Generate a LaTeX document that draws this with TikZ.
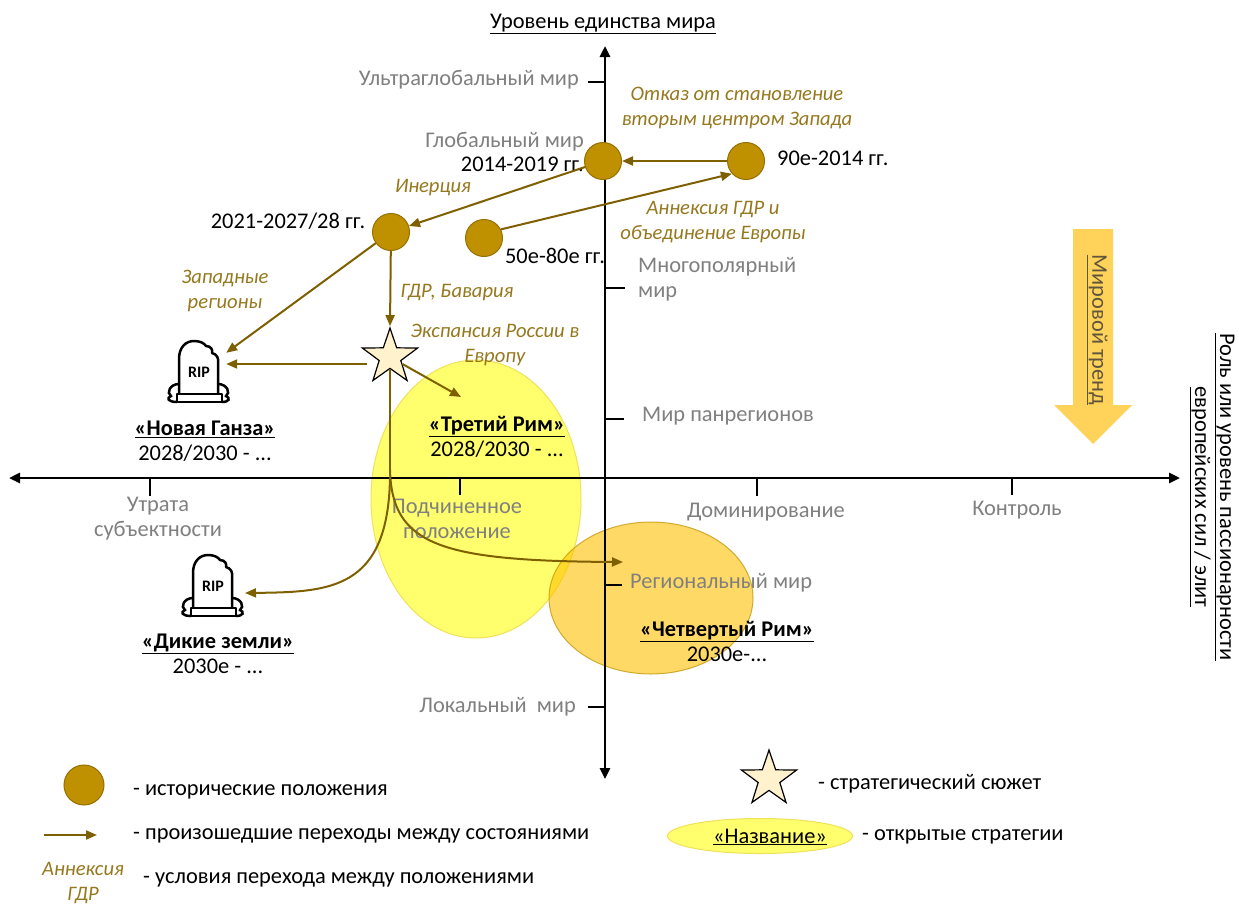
\documentclass[tikz,border=0pt]{standalone}
\usepackage{fontspec}
\setmainfont{Carlito}
\usetikzlibrary{arrows.meta,shapes.geometric}
\definecolor{lblgray}{RGB}{128,128,128}
\definecolor{histfill}{RGB}{191,144,0}
\definecolor{histdraw}{RGB}{150,112,0}
\definecolor{arrcol}{RGB}{127,96,0}
\definecolor{condcol}{RGB}{150,120,30}
\definecolor{yell}{RGB}{255,255,110}
\definecolor{yelldraw}{RGB}{240,225,90}
\definecolor{orng}{RGB}{255,192,0}
\definecolor{orngdraw}{RGB}{191,144,0}
\definecolor{trendcol}{RGB}{255,210,90}
\definecolor{trendtxt}{RGB}{95,85,60}
\definecolor{starfill}{RGB}{255,242,204}
\newcommand{\basefont}{\fontsize{22.4}{25}\selectfont}
\newcommand{\condfont}{\fontsize{20.6}{24.5}\selectfont\itshape}
\tikzset{
  hist/.style={circle, fill=histfill, draw=histdraw, line width=1pt, minimum size=37pt, inner sep=0pt},
  trans/.style={draw=arrcol, line width=2pt, -{Triangle[length=11pt,width=9pt]}},
  axisline/.style={line width=2.6pt, {Triangle[length=11pt,width=10pt]}-{Triangle[length=11pt,width=10pt]}},
  tickmark/.style={line width=2.6pt},
  glabel/.style={text=lblgray, inner sep=0pt, align=center},
  blabel/.style={text=black, inner sep=0pt, align=center},
  cond/.style={text=condcol, font=\condfont, inner sep=0pt, align=center},
  strat/.style={text=black, inner sep=0pt, align=center},
  strategic/.style={star, star points=5, star point ratio=2.55, minimum size=58pt, inner sep=0pt, fill=starfill, draw=black, line width=1.2pt},
  ripbox/.style={rectangle, minimum width=52pt, minimum height=64pt, inner sep=0pt},
  rip/.pic={
    \draw[line width=2.5pt, line join=round, fill=white]
      (-21,22) -- (-21,-13) .. controls (-21,-25) and (-14,-31) .. (-6,-31)
      .. controls (0,-31) and (4,-29) .. (6,-26)
      .. controls (11,-26) and (13,-22) .. (12,-19)
      .. controls (17,-18) and (19,-13) .. (18,-9) -- (18,22);
    \draw[line width=2.5pt, line join=round] (-23,22) rectangle (22,30);
    \draw[line width=2.5pt, line cap=round] (-21,12) .. controls (-30,12) and (-34,21) .. (-29,24)
      .. controls (-34,26) and (-32,30) .. (-23,30);
    \draw[line width=2.5pt, line cap=round] (18,12) .. controls (27,12) and (31,21) .. (26,24)
      .. controls (31,26) and (29,30) .. (22,30);
    \node[font=\bfseries\fontsize{16}{16}\selectfont, inner sep=0pt] at (-1,0) {RIP};
  }
}
\begin{document}
\begin{tikzpicture}[x=1pt,y=-1pt, font=\basefont]
\useasboundingbox (0,0) rectangle (1239,906);
\fill[white] (0,0) rectangle (1239,906);

% strategy ellipses
\fill[yell, draw=yelldraw, line width=1pt] (476,499) ellipse [x radius=105, y radius=139];
\fill[orng, fill opacity=0.6, draw=orngdraw, draw opacity=0.7, line width=1pt] (651,598) ellipse [x radius=102, y radius=76];

% axes
\coordinate (vtop) at (605,46);
\coordinate (vbot) at (605,779);
\coordinate (hleft) at (9,478);
\coordinate (hright) at (1180,478);
\draw[axisline] (vbot) -- (vtop);
\draw[axisline] (hleft) -- (hright);

% vertical ticks
\draw[tickmark] (588,82) -- (605,82);
\draw[tickmark] (588,156) -- (605,156);
\draw[tickmark] (605,288) -- (625,288);
\draw[tickmark] (605,419) -- (624,419);
\draw[tickmark] (605,585) -- (622,585);
\draw[tickmark] (588,707) -- (605,707);
% horizontal ticks
\draw[tickmark] (150,478) -- (150,496);
\draw[tickmark] (460,478) -- (460,495);
\draw[tickmark] (757,478) -- (757,496);
\draw[tickmark] (1012,478) -- (1012,495);

% axis labels
\node[glabel, anchor=east] (lug) at (579,80) {Ультраглобальный мир};
\node[glabel, anchor=east] (lgl) at (584,142) {Глобальный мир};
\node[glabel, anchor=west, align=left] (lmp) at (638,279) {Многополярный\\мир};
\node[glabel, anchor=west] (lpr) at (642,416) {Мир панрегионов};
\node[glabel, anchor=west] (lrg) at (630,583) {Региональный мир};
\node[glabel, anchor=east] (llc) at (576,707) {Локальный\ \ мир};
\node[glabel] (lut) at (158,519) {Утрата\\субъектности};
\node[glabel] (lpd) at (457,519) {Подчиненное\\положение};
\node[glabel] (ldm) at (766,512) {Доминирование};
\node[glabel] (lkt) at (1017,510) {Контроль};

\node[blabel] (title) at (603,24) {\underline{Уровень единства мира}};
\node[blabel, rotate=-90] (rtitle) at (1212,497) {\underline{Роль или уровень пассионарности}\\\underline{европейских сил / элит}};

% world trend arrow
\fill[trendcol] (1073,229) -- (1113,229) -- (1113,405) -- (1132,405) -- (1093,444) -- (1054,405) -- (1073,405) -- cycle;
\node[text=trendtxt, rotate=-90, inner sep=0pt] (trend) at (1097,330) {\underline{Мировой тренд}};

% historical states
\node[hist] (n14) at (603,161) {};
\node[hist] (n90) at (746,161) {};
\node[hist] (n21) at (391,232) {};
\node[hist] (n50) at (484,238) {};
\node[blabel, anchor=east] (t14) at (584,164) {2014-2019 гг.};
\node[blabel, anchor=west] (t90) at (777,158) {90е-2014 гг.};
\node[blabel] (t21) at (288,221) {2021-2027/28 гг.};
\node[blabel] (t50) at (555,256) {50е-80е гг.};

% strategic plot and RIP
\node[strategic] (star) at (390,357) {};
\node[ripbox] (rip1) at (200,372) {};
\pic at (rip1.center) {rip};
\node[ripbox] (rip2) at (214,586) {};
\pic at (rip2.center) {rip};

% transitions
\coordinate (t3tip) at (461,397);
\coordinate (rmtip) at (623,562);
\coordinate (dktip) at (245,593);
\coordinate (sL) at (367,364);
\draw[trans] (n90) -- (n14);
\draw[trans] (n50.27) -- (n90.222);
\draw[trans] (n14) -- (n21);
\draw[trans] (n21) -- (rip1);
\draw[trans] (n21) -- (star.north);
\draw[trans] (sL) -- (sL -| rip1.east);
\draw[trans] (star) -- (t3tip);
\draw[draw=arrcol, line width=2pt] (star.south) -- (390,470);
\draw[trans] (390,470) .. controls (392,545) and (440,561) .. (rmtip);
\draw[trans] (390,478) .. controls (388,590) and (330,592) .. (dktip);

% condition labels
\node[cond] (c1) at (737,108) {Отказ от становление\\вторым центром Запада};
\node[cond] (c2) at (433,188) {Инерция};
\node[cond] (c3) at (713,222) {Аннексия ГДР и\\объединение Европы};
\node[cond] (c4) at (225,291) {Западные\\регионы};
\node[cond] (c5) at (457,293) {ГДР, Бавария};
\node[cond] (c6) at (495,345) {Экспансия России в\\Европу};

% strategy labels
\node[strat] (s1) at (205,441) {\textbf{\underline{«Новая Ганза»}}\\2028/2030 - ...};
\node[strat] (s2) at (497,437) {\textbf{\underline{«Третий Рим»}}\\2028/2030 - ...};
\node[strat] (s3) at (218,654) {\textbf{\underline{«Дикие земли»}}\\2030е - ...};
\node[strat] (s4) at (727,641) {\textbf{\underline{«Четвертый Рим»}}\\2030е-...};

% legend
\node[hist, minimum size=40pt] (lgc) at (84,785) {};
\node[blabel, anchor=west] (lg1) at (133,792) {- исторические положения};
\coordinate (la1) at (44,835);
\coordinate (la2) at (97,835);
\draw[trans] (la1) -- (la2);
\node[blabel, anchor=west] (lg2) at (133,836) {- произошедшие переходы между состояниями};
\node[cond] (lg3c) at (83,883) {Аннексия\\ГДР};
\node[blabel, anchor=west] (lg3) at (143,880) {- условия перехода между положениями};
\node[strategic] (lgs) at (769,779) {};
\node[blabel, anchor=west] (lg4) at (818,784) {- стратегический сюжет};
\node[ellipse, fill=yell, draw=yelldraw, line width=1pt, minimum width=185pt, minimum height=35pt, inner sep=0pt] (lge) at (760,836) {};
\node[blabel] (lget) at (770,837) {\underline{«Название»}};
\node[blabel, anchor=west] (lg5) at (862,837) {- открытые стратегии};
\end{tikzpicture}
\end{document}
